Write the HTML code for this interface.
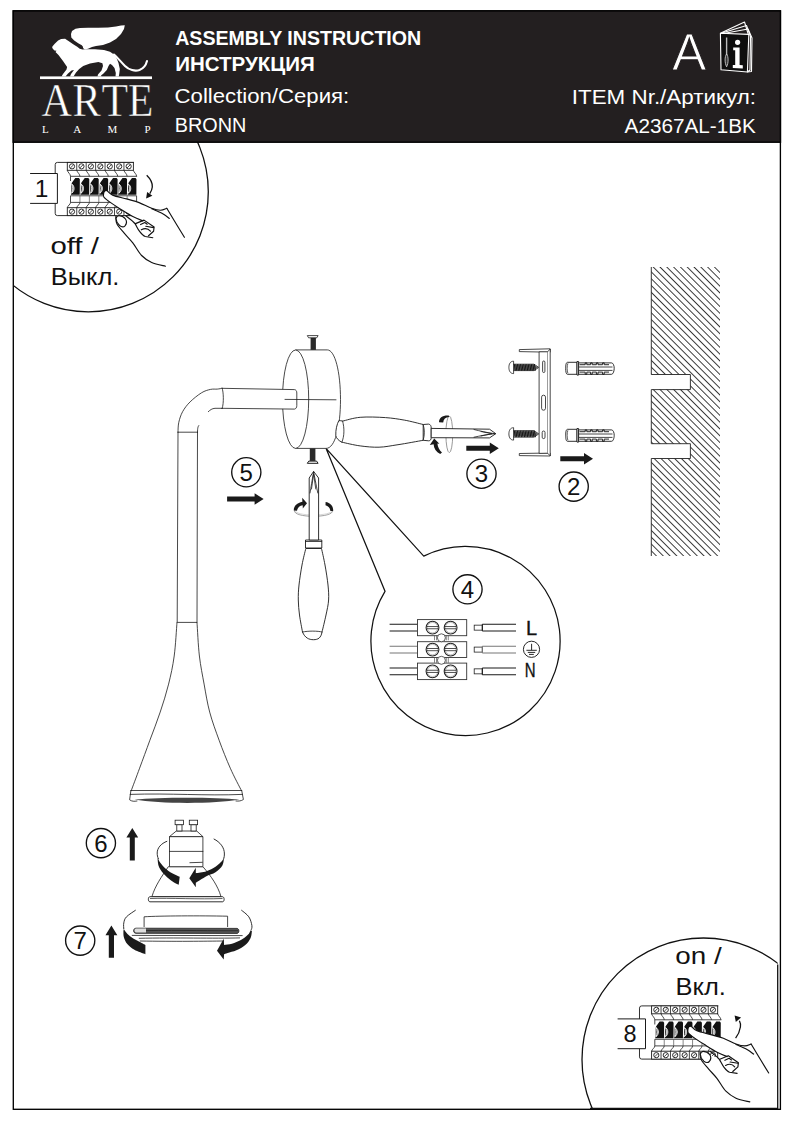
<!DOCTYPE html>
<html><head><meta charset="utf-8"><title>Assembly instruction</title>
<style>
html,body{margin:0;padding:0;background:#fff;}
body{width:794px;height:1123px;overflow:hidden;}
svg{display:block;}
text{font-family:"Liberation Sans",sans-serif;}
.serif{font-family:"Liberation Serif",serif;}
.ln{fill:none;stroke:#1a1a1a;stroke-width:0.8;stroke-linejoin:round;stroke-linecap:round;}
.lk{fill:none;stroke:#111;stroke-width:1.3;stroke-linejoin:round;stroke-linecap:round;}
.wf{fill:#fff;stroke:#1a1a1a;stroke-width:0.8;stroke-linejoin:round;}
.blk{fill:#1c1c1c;stroke:none;}
</style></head>
<body>
<svg width="794" height="1123" viewBox="0 0 794 1123">
<!-- page border -->
<rect x="13.3" y="10.9" width="767.1" height="1098.4" fill="#fff" stroke="#000" stroke-width="1.35"/>


<defs>
<clipPath id="clip1"><rect x="13.3" y="142" width="400" height="400"/></clipPath>
<clipPath id="clip8"><rect x="500" y="900" width="277.7" height="208.5"/></clipPath>
<pattern id="hatch" patternUnits="userSpaceOnUse" x="652.5" y="267" width="4.81" height="4.81" patternTransform="rotate(-45 652.5 267)">
<line x1="0.45" y1="-1" x2="0.45" y2="6" stroke="#111" stroke-width="0.85"/>
</pattern>
</defs>

<!-- circle 1 -->
<circle cx="88.3" cy="191.8" r="120" fill="none" stroke="#111" stroke-width="1.3" clip-path="url(#clip1)"/>
<!-- circle 8 -->
<circle cx="703.5" cy="1059.5" r="121.5" fill="none" stroke="#111" stroke-width="1.3" clip-path="url(#clip8)"/>
<path d="M777.7,964.5 L777.7,1108.3 L590,1108.3" fill="none" stroke="#111" stroke-width="1.3"/>

<!-- circle 4 with pointer -->
<path d="M326,448.3 L423.7,556.1 A94.6,94.6 0 1 1 385,591.3 Z" fill="#fff" stroke="#111" stroke-width="1.25" stroke-linejoin="miter"/>

<!-- wall -->
<g id="wall">
<path d="M651.3,267 L720,267 L720,556 L651.3,556 L651.3,458.5 L690.4,458.5 L690.4,443.7 L651.3,443.7 L651.3,389.6 L690.4,389.6 L690.4,374.5 L651.3,374.5 Z" fill="url(#hatch)" stroke="none"/>
<path d="M651.3,267 L651.3,374.5 L690.4,374.5 L690.4,389.6 L651.3,389.6 L651.3,443.7 L690.4,443.7 L690.4,458.5 L651.3,458.5 L651.3,556" fill="none" stroke="#222" stroke-width="0.9"/>
</g>

<path d="M177.0,622.4 C176.5,628.0 175.6,645.7 174.2,656.0 C172.8,666.3 170.9,674.8 168.6,684.1 C166.3,693.5 163.3,702.8 160.2,712.1 C157.1,721.5 153.3,730.9 149.9,740.2 C146.5,749.6 142.7,759.8 139.6,768.2 C136.5,776.6 132.6,787.0 131.2,790.7" fill="none" stroke="#1a1a1a" stroke-width="0.8" stroke-linejoin="round" stroke-linecap="round"/>
<path d="M197.0,622.4 C197.4,628.0 198.2,645.7 199.4,656.0 C200.6,666.3 202.4,674.8 204.1,684.1 C205.8,693.5 207.2,702.8 209.7,712.1 C212.2,721.5 215.7,730.9 219.1,740.2 C222.5,749.6 226.6,759.8 230.3,768.2 C234.0,776.6 239.6,787.0 241.5,790.7" fill="none" stroke="#1a1a1a" stroke-width="0.8" stroke-linejoin="round" stroke-linecap="round"/>
<path d="M134.5,799.5 C160,804 215,804 239.5,799.5 C215,797 160,797 134.5,799.5 Z" fill="#444"/>
<path d="M130.9,790.5 L241.7,790.5 M130.2,794.4 C170,793 205,796 242.5,794.4" fill="none" stroke="#1a1a1a" stroke-width="0.8" stroke-linejoin="round" stroke-linecap="round"/>
<path d="M130.9,790.5 L129.6,799.8 C132,801.5 134,801.5 137,801 M241.7,790.5 L243.4,799.5 C241,801 239,801.3 236,801" fill="none" stroke="#1a1a1a" stroke-width="0.8" stroke-linejoin="round" stroke-linecap="round"/>
<path d="M178,432.2 L177.2,622.4 L197,622.4 L197.5,432.2" fill="none" stroke="#1a1a1a" stroke-width="0.8" stroke-linejoin="round" stroke-linecap="round"/>
<path d="M178,432.2 L197.5,432.2" fill="none" stroke="#1a1a1a" stroke-width="0.8" stroke-linejoin="round" stroke-linecap="round"/>
<path d="M222.2,388.3 C221.4,388.4 219.2,388.9 217.3,389.1 C215.4,389.3 213.1,388.8 210.5,389.4 C207.9,390.0 204.9,390.7 201.5,392.8 C198.1,394.9 193.2,398.8 190.1,401.9 C186.9,405.0 184.5,408.3 182.6,411.7 C180.7,415.1 179.6,418.9 178.8,422.3 C178.0,425.7 178.1,430.6 178.0,432.2" fill="none" stroke="#1a1a1a" stroke-width="0.8" stroke-linejoin="round" stroke-linecap="round"/>
<path d="M222.2,408.3 L215,408.3 C212,408.5 210,410 208.3,411.7" fill="none" stroke="#1a1a1a" stroke-width="0.8" stroke-linejoin="round" stroke-linecap="round"/>
<path d="M198.8,425.5 C198,426.5 197.5,428 197.5,432.2" fill="none" stroke="#1a1a1a" stroke-width="0.8" stroke-linejoin="round" stroke-linecap="round"/>
<path d="M222.2,388.3 C223.5,392 224,403 222.2,408.3" fill="none" stroke="#1a1a1a" stroke-width="0.8" stroke-linejoin="round" stroke-linecap="round"/>
<path d="M295.6,349.9 L327.3,349.9 C335,349.9 340.5,372 340.5,399.5 C340.5,427 335,448.4 326.1,448.4 L295.6,448.4 Z" fill="#fff" stroke="#1a1a1a" stroke-width="0.8"/>
<ellipse cx="295.6" cy="399.2" rx="13.1" ry="49.2" fill="#fff" stroke="#1a1a1a" stroke-width="0.8"/>
<path d="M221.2,388.3 L294.5,389.6 C296,389.8 296.8,391 296.8,393 L296.8,405.5 C296.8,407.5 296,408.8 294.5,409.1 L221.2,408.3" fill="#fff" stroke="#1a1a1a" stroke-width="0.8"/>
<path d="M222.2,388.3 C223.5,392 224,403 222.2,408.3" fill="none" stroke="#1a1a1a" stroke-width="0.8" stroke-linejoin="round" stroke-linecap="round"/>
<path d="M285,399.4 L336,399.8" fill="none" stroke="#1a1a1a" stroke-width="0.8" stroke-linejoin="round" stroke-linecap="round"/>
<rect x="310.6" y="337.5" width="5.3" height="12.4" fill="#2a2a2a"/>
<path d="M307.3,335.6 L318.1,335.6 L316.8,337.8 L308.6,337.8 Z" fill="#fff" stroke="#1a1a1a" stroke-width="0.8"/>
<rect x="309.8" y="448.4" width="5.6" height="12.5" fill="#2a2a2a"/>
<path d="M308.8,461.1 L316.6,461.1 L318.1,463.3 L307.3,463.3 Z" fill="#fff" stroke="#1a1a1a" stroke-width="1"/>
<path d="M342.6,421.1 C345.5,420.5 353.1,417.9 360.2,417.3 C367.3,416.7 378.0,417.1 385.4,417.6 C392.8,418.1 398.0,419.0 404.3,420.1 C410.6,421.2 420.1,423.8 423.2,424.5 L423.2,440.3 C419.0,441.0 405.4,443.6 398.0,444.7 C390.6,445.8 385.4,447.0 379.1,447.2 C372.8,447.4 366.4,446.7 360.2,445.9 C354.0,445.1 344.9,442.8 341.9,442.2 C339,441 336,438 335.8,435.5 C335.5,430 337,424 338.8,420.7 C340,420.5 341.5,420.8 342.6,421.1 Z" fill="#fff" stroke="#1a1a1a" stroke-width="0.9"/>
<path d="M342.6,421.1 C344.5,428 344.5,436 341.9,442.2" fill="none" stroke="#1a1a1a" stroke-width="0.8" stroke-linejoin="round" stroke-linecap="round"/>
<path d="M423.2,424.5 L428.5,424.1 C430.5,424.3 431.2,426 431.2,428 L431.2,437.5 C431.2,439.5 430.5,440.8 428.5,440.8 L423.2,440.3 C424.6,435 424.6,429.5 423.2,424.5 Z" fill="#fff" stroke="#1a1a1a" stroke-width="0.9"/>
<ellipse cx="449.3" cy="434.3" rx="3.4" ry="18.3" fill="none" stroke="#777" stroke-width="0.75"/>
<path d="M431.2,428.4 L489.5,429.2 L495.8,433.7 L489.5,437.9 L431.2,437.7 Z" fill="#fff" stroke="#1a1a1a" stroke-width="0.9"/>
<path d="M474,429.5 C480,431 486,432.5 495,433.7 M474,437.2 C480,436 486,434.5 495,433.7 M481,431.5 L492,433.7 L481,436" fill="none" stroke="#1a1a1a" stroke-width="0.8" stroke-linejoin="round" stroke-linecap="round"/>
<path d="M439,422.2 C439,418 442.5,415.2 448.8,415.6 L449.2,417 C445.5,417.2 443.5,419 443.2,422.4 Z" fill="#1a1a1a"/>
<path d="M429.8,445 L434.2,438.4 L439.4,443.8 L437.4,443.6 C437.8,447.3 439.4,450.3 442,452.6 L440.2,454 C436.2,451.8 433.8,448.5 433.6,444.2 Z" fill="#1a1a1a"/>
<path d="M305.8,548.5 C305.2,551.2 303.1,558.9 302.0,565.0 C300.9,571.1 299.6,579.2 299.0,585.0 C298.4,590.8 298.2,595.0 298.3,600.0 C298.4,605.0 298.8,609.7 299.5,615.0 C300.2,620.3 302.0,629.2 302.5,632.0 C305,638 309,639.7 313.5,639.7 C318,639.7 321,638 322,632  C322.7,629.2 324.9,620.3 326.0,615.0 C327.1,609.7 328.3,605.0 328.6,600.0 C328.9,595.0 328.6,590.8 328.0,585.0 C327.4,579.2 326.1,571.1 325.0,565.0 C323.9,558.9 322.1,551.2 321.5,548.5 Z" fill="#fff" stroke="#1a1a1a" stroke-width="0.9"/>
<path d="M302.5,632 C308,630.8 318,630.8 322,632" fill="none" stroke="#1a1a1a" stroke-width="0.8" stroke-linejoin="round" stroke-linecap="round"/>
<path d="M305.5,540 L321.8,540 L321.8,548 L305.5,548 Z" fill="#fff" stroke="#1a1a1a" stroke-width="0.9"/>
<path d="M305.6,541.5 L321.7,541.5" fill="none" stroke="#1a1a1a" stroke-width="0.8" stroke-linejoin="round" stroke-linecap="round"/>
<path d="M294.4,510.3 C293.8,514.3 303,516.3 313.5,516.3 C324,516.3 333.2,514.3 332.7,510.3" fill="none" stroke="#888" stroke-width="0.8"/>
<path d="M295.2,510.6 C295.5,513.2 303,515 313.5,515 C324,515 331.8,513.2 332,510.6" fill="none" stroke="#bbb" stroke-width="0.6"/>
<path d="M309.2,540 L309.2,478 L313.6,471.4 L318.6,478 L318.6,540 Z" fill="#fff" stroke="#1a1a1a" stroke-width="0.9"/>
<path d="M310,493 C311,487 312,481 313.6,472 M317.8,493 C316.5,487 315.5,481 313.6,472 M311.5,489 L313.6,474 L315.8,489" fill="none" stroke="#1a1a1a" stroke-width="0.8" stroke-linejoin="round" stroke-linecap="round"/>
<path d="M293.8,510.4 C293.6,506 297,502.8 302.4,501.7 L302.2,497.8 L307,503.2 L302.8,508.4 L302.7,505.3 C299.5,505.9 297.5,507.8 297,510.8 Z" fill="#1a1a1a"/>
<path d="M325.6,501.9 C330.4,502.6 333.6,506.2 333.1,510.9 L330.4,511.1 C330.1,508.1 328.4,506 325.5,505.3 Z" fill="#1a1a1a"/>
<path d="M519.3,349.6 L550.2,348.8 L550.2,352.2 L519.3,351.6 Z" fill="#fff" stroke="#1a1a1a" stroke-width="0.8"/>
<path d="M519.3,453.5 L550.2,453 L550.2,456 L519.3,455.6 Z" fill="#fff" stroke="#1a1a1a" stroke-width="0.8"/>
<path d="M539.1,351.8 L547.6,351.8 L547.6,453.2 L539.1,453.4 Z" fill="#fff" stroke="#1a1a1a" stroke-width="0.8"/>
<path d="M547.6,351.8 L550.2,349 L550.2,455.8 L547.6,453.2" fill="#fff" stroke="#1a1a1a" stroke-width="0.8"/>
<rect x="542.6" y="361" width="2.3" height="11.5" rx="1.1" fill="#fff" stroke="#1a1a1a" stroke-width="0.8"/>
<rect x="541.6" y="395.2" width="3.9" height="15" rx="1.9" fill="#fff" stroke="#1a1a1a" stroke-width="0.8"/>
<rect x="542.2" y="431" width="2.8" height="7.6" rx="1.4" fill="#fff" stroke="#1a1a1a" stroke-width="0.8"/>
<path d="M513.6,361.2 C510,361.2 508.9,364.4 508.9,367.4 C508.9,370.4 510,373.59999999999997 513.6,373.59999999999997 Z" fill="#fff" stroke="#1a1a1a" stroke-width="0.8"/>
<path d="M513.6,364.2 L534,364.2 L538.8,367.4 L534,370.59999999999997 L513.6,370.59999999999997 Z" fill="#fff" stroke="#1a1a1a" stroke-width="0.8"/>
<path d="M513.6,364.79999999999995 L534,364.79999999999995 L538.8,367.4 L534,370.0 L513.6,370.0 Z" fill="#666"/>
<path d="M514.3,364.09999999999997 L515.3,370.7 M515.8,364.09999999999997 L516.8,370.7 M517.4,364.09999999999997 L518.4,370.7 M518.9,364.09999999999997 L519.9,370.7 M520.5,364.09999999999997 L521.5,370.7 M522.0,364.09999999999997 L523.0,370.7 M523.6,364.09999999999997 L524.6,370.7 M525.1,364.09999999999997 L526.1,370.7 M526.7,364.09999999999997 L527.7,370.7 M528.2,364.09999999999997 L529.2,370.7 M529.8,364.09999999999997 L530.8,370.7 M531.3,364.09999999999997 L532.3,370.7 M532.9,364.09999999999997 L533.9,370.7 M534.4,364.09999999999997 L535.4,370.7 " fill="none" stroke="#111" stroke-width="0.95"/>
<path d="M513.6,427.7 C510,427.7 508.9,430.9 508.9,433.9 C508.9,436.9 510,440.09999999999997 513.6,440.09999999999997 Z" fill="#fff" stroke="#1a1a1a" stroke-width="0.8"/>
<path d="M513.6,430.7 L534,430.7 L538.8,433.9 L534,437.09999999999997 L513.6,437.09999999999997 Z" fill="#fff" stroke="#1a1a1a" stroke-width="0.8"/>
<path d="M513.6,431.29999999999995 L534,431.29999999999995 L538.8,433.9 L534,436.5 L513.6,436.5 Z" fill="#666"/>
<path d="M514.3,430.59999999999997 L515.3,437.2 M515.8,430.59999999999997 L516.8,437.2 M517.4,430.59999999999997 L518.4,437.2 M518.9,430.59999999999997 L519.9,437.2 M520.5,430.59999999999997 L521.5,437.2 M522.0,430.59999999999997 L523.0,437.2 M523.6,430.59999999999997 L524.6,437.2 M525.1,430.59999999999997 L526.1,437.2 M526.7,430.59999999999997 L527.7,437.2 M528.2,430.59999999999997 L529.2,437.2 M529.8,430.59999999999997 L530.8,437.2 M531.3,430.59999999999997 L532.3,437.2 M532.9,430.59999999999997 L533.9,437.2 M534.4,430.59999999999997 L535.4,437.2 " fill="none" stroke="#111" stroke-width="0.95"/>
<path d="M567.5,362.3 L577,362.3 L577,374.3 L567.5,374.3 C566,374.3 565.7,371.3 565.7,368.3 C565.7,365.3 566,362.3 567.5,362.3 Z" fill="#fff" stroke="#1a1a1a" stroke-width="0.9"/>
<path d="M567.9,363.3 C566.9,365.8 566.9,370.8 567.9,373.3" fill="none" stroke="#333" stroke-width="0.8"/>
<path d="M577,361.5 L578.6,361.5 L578.6,375.1 L577,375.1 Z" fill="#fff" stroke="#1a1a1a" stroke-width="0.9"/>
<path d="M578.6,362.90000000000003 L611.5,362.90000000000003 C613.3,362.90000000000003 614.2,365.8 614.2,368.3 C614.2,370.8 613.3,374.3 611.5,374.3 L578.6,374.3 Z" fill="#fff" stroke="#1a1a1a" stroke-width="0.9"/>
<path d="M579,367.0 L612.5,367.0 M579,370.40000000000003 L612.5,370.40000000000003" fill="none" stroke="#1a1a1a" stroke-width="0.8"/>
<path d="M579.5,364.7 L585.2,364.7 L585.2,362.90000000000003 L586.8000000000001,362.90000000000003 L586.8000000000001,364.7 L590.6,364.7 L590.6,362.90000000000003 L592.2,362.90000000000003 L592.2,364.7 L596.4,364.7 L596.4,362.90000000000003 L598.0,362.90000000000003 L598.0,364.7 L602.6,364.7 L602.6,362.90000000000003 L604.2,362.90000000000003 L604.2,364.7 L609,364.7 M579.5,372.1 L585.2,372.1 L585.2,374.3 L586.8000000000001,374.3 L586.8000000000001,372.1 L590.6,372.1 L590.6,374.3 L592.2,374.3 L592.2,372.1 L596.4,372.1 L596.4,374.3 L598.0,374.3 L598.0,372.1 L602.6,372.1 L602.6,374.3 L604.2,374.3 L604.2,372.1 L609,372.1" fill="none" stroke="#1a1a1a" stroke-width="0.95"/>
<path d="M567.5,429.3 L577,429.3 L577,441.3 L567.5,441.3 C566,441.3 565.7,438.3 565.7,435.3 C565.7,432.3 566,429.3 567.5,429.3 Z" fill="#fff" stroke="#1a1a1a" stroke-width="0.9"/>
<path d="M567.9,430.3 C566.9,432.8 566.9,437.8 567.9,440.3" fill="none" stroke="#333" stroke-width="0.8"/>
<path d="M577,428.5 L578.6,428.5 L578.6,442.1 L577,442.1 Z" fill="#fff" stroke="#1a1a1a" stroke-width="0.9"/>
<path d="M578.6,429.90000000000003 L611.5,429.90000000000003 C613.3,429.90000000000003 614.2,432.8 614.2,435.3 C614.2,437.8 613.3,441.3 611.5,441.3 L578.6,441.3 Z" fill="#fff" stroke="#1a1a1a" stroke-width="0.9"/>
<path d="M579,434.0 L612.5,434.0 M579,437.40000000000003 L612.5,437.40000000000003" fill="none" stroke="#1a1a1a" stroke-width="0.8"/>
<path d="M579.5,431.7 L585.2,431.7 L585.2,429.90000000000003 L586.8000000000001,429.90000000000003 L586.8000000000001,431.7 L590.6,431.7 L590.6,429.90000000000003 L592.2,429.90000000000003 L592.2,431.7 L596.4,431.7 L596.4,429.90000000000003 L598.0,429.90000000000003 L598.0,431.7 L602.6,431.7 L602.6,429.90000000000003 L604.2,429.90000000000003 L604.2,431.7 L609,431.7 M579.5,439.1 L585.2,439.1 L585.2,441.3 L586.8000000000001,441.3 L586.8000000000001,439.1 L590.6,439.1 L590.6,441.3 L592.2,441.3 L592.2,439.1 L596.4,439.1 L596.4,441.3 L598.0,441.3 L598.0,439.1 L602.6,439.1 L602.6,441.3 L604.2,441.3 L604.2,439.1 L609,439.1" fill="none" stroke="#1a1a1a" stroke-width="0.95"/>
<path d="M389.6,624.2500000000001 L417.5,624.2500000000001 M389.6,631.0500000000001 L417.5,631.0500000000001" fill="none" stroke="#1a1a1a" stroke-width="1.1"/>
<rect x="417.5" y="619.6" width="49.2" height="16.100000000000023" fill="#fff" stroke="#333" stroke-width="0.9"/>
<circle cx="432.5" cy="627.6500000000001" r="6.4" fill="#fff" stroke="#222" stroke-width="1.1"/>
<circle cx="432.5" cy="627.6500000000001" r="5.2" fill="none" stroke="#999" stroke-width="0.6"/>
<path d="M426.9,626.5500000000001 L438.1,626.5500000000001 M426.9,628.7500000000001 L438.1,628.7500000000001" fill="none" stroke="#222" stroke-width="0.8"/>
<circle cx="450.6" cy="627.6500000000001" r="6.4" fill="#fff" stroke="#222" stroke-width="1.1"/>
<circle cx="450.6" cy="627.6500000000001" r="5.2" fill="none" stroke="#999" stroke-width="0.6"/>
<path d="M445.0,626.5500000000001 L456.20000000000005,626.5500000000001 M445.0,628.7500000000001 L456.20000000000005,628.7500000000001" fill="none" stroke="#222" stroke-width="0.8"/>
<rect x="474.2" y="625.1500000000001" width="8.1" height="5" fill="#fff" stroke="#222" stroke-width="0.8"/>
<path d="M482.3,624.2500000000001 L516,624.2500000000001 M482.3,631.0500000000001 L516,631.0500000000001 M482.3,624.2500000000001 L482.3,631.0500000000001" fill="none" stroke="#1a1a1a" stroke-width="1.1"/>
<path d="M389.6,646.2 L417.5,646.2 M389.6,653.0 L417.5,653.0" fill="none" stroke="#777" stroke-width="1.1"/>
<rect x="417.5" y="641.7" width="49.2" height="15.799999999999955" fill="#fff" stroke="#333" stroke-width="0.9"/>
<circle cx="432.5" cy="649.6" r="6.4" fill="#fff" stroke="#222" stroke-width="1.1"/>
<circle cx="432.5" cy="649.6" r="5.2" fill="none" stroke="#999" stroke-width="0.6"/>
<path d="M426.9,648.5 L438.1,648.5 M426.9,650.7 L438.1,650.7" fill="none" stroke="#222" stroke-width="0.8"/>
<circle cx="450.6" cy="649.6" r="6.4" fill="#fff" stroke="#222" stroke-width="1.1"/>
<circle cx="450.6" cy="649.6" r="5.2" fill="none" stroke="#999" stroke-width="0.6"/>
<path d="M445.0,648.5 L456.20000000000005,648.5 M445.0,650.7 L456.20000000000005,650.7" fill="none" stroke="#222" stroke-width="0.8"/>
<rect x="474.2" y="647.1" width="8.1" height="5" fill="#fff" stroke="#222" stroke-width="0.8"/>
<path d="M482.3,646.2 L516,646.2 M482.3,653.0 L516,653.0 M482.3,646.2 L482.3,653.0" fill="none" stroke="#777" stroke-width="1.1"/>
<path d="M389.6,667.95 L417.5,667.95 M389.6,674.75 L417.5,674.75" fill="none" stroke="#1a1a1a" stroke-width="1.1"/>
<rect x="417.5" y="663.1" width="49.2" height="16.5" fill="#fff" stroke="#333" stroke-width="0.9"/>
<circle cx="432.5" cy="671.35" r="6.4" fill="#fff" stroke="#222" stroke-width="1.1"/>
<circle cx="432.5" cy="671.35" r="5.2" fill="none" stroke="#999" stroke-width="0.6"/>
<path d="M426.9,670.25 L438.1,670.25 M426.9,672.45 L438.1,672.45" fill="none" stroke="#222" stroke-width="0.8"/>
<circle cx="450.6" cy="671.35" r="6.4" fill="#fff" stroke="#222" stroke-width="1.1"/>
<circle cx="450.6" cy="671.35" r="5.2" fill="none" stroke="#999" stroke-width="0.6"/>
<path d="M445.0,670.25 L456.20000000000005,670.25 M445.0,672.45 L456.20000000000005,672.45" fill="none" stroke="#222" stroke-width="0.8"/>
<rect x="474.2" y="668.85" width="8.1" height="5" fill="#fff" stroke="#222" stroke-width="0.8"/>
<path d="M482.3,667.95 L516,667.95 M482.3,674.75 L516,674.75 M482.3,667.95 L482.3,674.75" fill="none" stroke="#1a1a1a" stroke-width="1.1"/>
<circle cx="441.4" cy="637.8" r="4" fill="#fff" stroke="#333" stroke-width="0.8"/>
<path d="M434.5,635.3 L434.5,640.3 M436.5,635.3 L436.5,640.3 M446.3,635.3 L446.3,640.3 M448.3,635.3 L448.3,640.3" fill="none" stroke="#555" stroke-width="0.7"/>
<circle cx="441.4" cy="660.3" r="4" fill="#fff" stroke="#333" stroke-width="0.8"/>
<path d="M434.5,657.8 L434.5,662.8 M436.5,657.8 L436.5,662.8 M446.3,657.8 L446.3,662.8 M448.3,657.8 L448.3,662.8" fill="none" stroke="#555" stroke-width="0.7"/>
<text x="526" y="634.5" font-size="20" fill="#111" stroke="#111" stroke-width="0.35">L</text>
<text x="524.8" y="677.4" font-size="19.5" fill="#111" stroke="#111" stroke-width="0.35" textLength="10.8" lengthAdjust="spacingAndGlyphs">N</text>
<circle cx="531.5" cy="649.3" r="8.1" fill="#fff" stroke="#111" stroke-width="0.9"/>
<path d="M531.6,643.8 L531.6,650.2 M526.4,650.3 L536.8,650.3 M527.8,652.4 L535.2,652.4 M529,654.4 L533.8,654.4" fill="none" stroke="#111" stroke-width="0.9"/>
<path d="M168.3,866.7 C162,876 155,886 151.9,896.7 L221,896.7 C218,886 211,876 202.9,866.7 Z" fill="#fff" stroke="#1a1a1a" stroke-width="0.8"/>
<path d="M150,896.7 L222.5,896.7 C224.5,896.7 224.8,901.8 222.5,901.8 L150,901.8 C147.8,901.8 147.8,896.7 150,896.7 Z" fill="#fff" stroke="#1a1a1a" stroke-width="0.9"/>
<path d="M150,898.5 C170,897.8 200,899.5 222.5,898.5" fill="none" stroke="#1a1a1a" stroke-width="0.7"/>
<path d="M169.5,836.6 L202.9,836.6 L202.9,866.7 L169.5,866.7 Z" fill="#fff" stroke="#1a1a1a" stroke-width="0.8"/>
<path d="M169.5,851.4 L202.9,851.4 M189.9,862.7 L202.3,862.3" fill="none" stroke="#1a1a1a" stroke-width="0.8" stroke-linejoin="round" stroke-linecap="round"/>
<path d="M176.3,831 L196.7,831 L202.9,836.6 L169.5,836.6 Z" fill="#fff" stroke="#1a1a1a" stroke-width="0.8"/>
<rect x="176.79999999999998" y="824.7" width="5.2" height="6.3" fill="#fff" stroke="#1a1a1a" stroke-width="0.8"/>
<rect x="175.1" y="820.2" width="8.3" height="4.5" fill="#fff" stroke="#1a1a1a" stroke-width="0.8"/>
<rect x="191.0" y="824.7" width="5.2" height="6.3" fill="#fff" stroke="#1a1a1a" stroke-width="0.8"/>
<rect x="189.3" y="820.2" width="8.3" height="4.5" fill="#fff" stroke="#1a1a1a" stroke-width="0.8"/>
<path d="M167.2,841.2 C161,843.5 157.2,848 157.2,853 C157.2,855 157.5,857 158.5,859" fill="none" stroke="#1a1a1a" stroke-width="0.9"/>
<path d="M213.7,838.9 C220,842 224.5,847.5 224.4,854 C224.4,855.5 224.2,857 223.8,858.7" fill="none" stroke="#1a1a1a" stroke-width="0.9"/>
<path d="M157.6,859.1 C157.8,860.5 157.8,864.5 159.1,867.2 C160.3,869.9 162.9,872.9 165.1,875.2 C167.3,877.6 169.9,879.7 172.2,881.3 C174.5,882.9 177.6,884.2 178.7,884.8 L179.7,876.7 C178.4,876.1 174.6,874.6 172.2,873.2 C169.8,871.8 167.1,870.0 165.1,868.2 C163.1,866.4 161.3,864.3 160.1,862.6 C158.9,860.9 158.3,858.9 157.9,858.1 Z" fill="#1a1a1a"/>
<path d="M224.0,857.1 C223.8,858.5 223.9,862.7 222.5,865.2 C221.1,867.7 218.2,870.4 215.5,872.2 C212.8,874.0 209.7,874.4 206.4,876.2 C203.1,878.0 197.6,881.7 195.8,882.8 L195.8,887.3 L189.3,878.2 L195.8,867.7 L195.8,873.2 C197.6,872.9 203.1,872.3 206.4,871.2 C209.7,870.1 212.9,868.4 215.5,866.7 C218.1,865.0 220.6,862.7 222.0,861.1 C223.4,859.5 223.7,857.8 224.0,857.1 Z" fill="#1a1a1a"/>
<path d="M144.1,927 L144.1,916.8 C160,915.8 200,915.6 227.6,916.2 L227.6,927" fill="#fff" stroke="#1a1a1a" stroke-width="0.8"/>
<path d="M136,928.2 L237,928.4 C239.5,928.6 239.5,933.3 237,933.4 L136,933.3 C132.8,933.2 132.8,928.3 136,928.2 Z" fill="#555" stroke="#1a1a1a" stroke-width="0.8"/>
<path d="M136,928.6 L146,928.6 L146,932.5 L136,932.5 C134,932.5 134,928.6 136,928.6 Z" fill="#ddd"/>
<path d="M146,930.6 C180,930 215,931 238,930.7" fill="none" stroke="#222" stroke-width="0.8"/>
<path d="M131.8,935.4 L242.6,935.6 M138.8,938.3 C175,937.5 215,938.6 240,937.9 M139.7,941 C175,941.6 205,941.2 224,941" fill="none" stroke="#1a1a1a" stroke-width="0.8"/>
<path d="M135.7,910.1 C134.2,911.2 128.5,914.7 126.5,916.8 C124.5,918.9 124.2,920.8 123.8,922.9 C123.3,925.0 123.8,928.1 123.8,929.1" fill="none" stroke="#1a1a1a" stroke-width="0.9"/>
<path d="M241.3,910.1 C242.6,911.2 247.0,914.2 248.8,916.8 C250.6,919.4 251.5,923.3 251.9,925.6 C252.3,927.9 251.2,929.6 251.0,930.4" fill="none" stroke="#1a1a1a" stroke-width="0.9"/>
<path d="M123.4,930.9 C123.5,931.9 123.2,934.8 123.8,937.0 C124.4,939.2 125.5,942.0 127.3,944.1 C129.1,946.2 131.4,948.1 134.4,949.8 C137.4,951.5 143.6,953.5 145.4,954.2 L145.4,945.0 C144.0,944.3 139.6,942.1 137.0,940.6 C134.4,939.1 131.9,937.7 130.0,936.2 C128.1,934.7 126.6,932.9 125.6,931.7 C124.6,930.5 124.1,929.5 123.8,929.1 Z" fill="#1a1a1a"/>
<path d="M251.9,930.9 C251.7,932.1 251.7,935.5 250.6,937.9 C249.5,940.2 247.7,942.9 245.3,945.0 C242.9,947.1 239.4,949.0 236.4,950.3 C233.4,951.6 229.7,952.4 227.6,953.0 C225.5,953.6 224.7,954.0 224.1,954.2 L223.7,959.5 L217,950.7 L223.7,938.8 L224.1,945.0 C225.4,944.8 229.2,944.5 232.0,943.7 C234.8,942.9 238.2,941.6 240.9,940.1 C243.6,938.6 246.3,936.4 247.9,934.8 C249.5,933.2 250.2,931.1 250.6,930.4 Z" fill="#1a1a1a"/>
<path d="M134,162.4 L57.4,162.4 Q55.2,162.4 55.2,164.6 L55.2,213.4 Q55.2,215.6 57.4,215.6 L134,215.6" fill="#fff" stroke="#1a1a1a" stroke-width="0.9"/>
<rect x="67.3" y="162.4" width="66.08" height="7.900000000000006" fill="#fff" stroke="#1a1a1a" stroke-width="0.9"/>
<path d="M76.74,162.4 L76.74,170.3 M86.18,162.4 L86.18,170.3 M95.62,162.4 L95.62,170.3 M105.06,162.4 L105.06,170.3 M114.50,162.4 L114.50,170.3 M123.94,162.4 L123.94,170.3 " fill="none" stroke="#1a1a1a" stroke-width="0.8"/>
<circle cx="72.02" cy="166.35" r="2.6" fill="none" stroke="#1a1a1a" stroke-width="0.9"/>
<path d="M70.42,167.95 L73.62,164.75" fill="none" stroke="#1a1a1a" stroke-width="0.8"/>
<circle cx="81.46" cy="166.35" r="2.6" fill="none" stroke="#1a1a1a" stroke-width="0.9"/>
<path d="M79.86,167.95 L83.06,164.75" fill="none" stroke="#1a1a1a" stroke-width="0.8"/>
<circle cx="90.90" cy="166.35" r="2.6" fill="none" stroke="#1a1a1a" stroke-width="0.9"/>
<path d="M89.30,167.95 L92.50,164.75" fill="none" stroke="#1a1a1a" stroke-width="0.8"/>
<circle cx="100.34" cy="166.35" r="2.6" fill="none" stroke="#1a1a1a" stroke-width="0.9"/>
<path d="M98.74,167.95 L101.94,164.75" fill="none" stroke="#1a1a1a" stroke-width="0.8"/>
<circle cx="109.78" cy="166.35" r="2.6" fill="none" stroke="#1a1a1a" stroke-width="0.9"/>
<path d="M108.18,167.95 L111.38,164.75" fill="none" stroke="#1a1a1a" stroke-width="0.8"/>
<circle cx="119.22" cy="166.35" r="2.6" fill="none" stroke="#1a1a1a" stroke-width="0.9"/>
<path d="M117.62,167.95 L120.82,164.75" fill="none" stroke="#1a1a1a" stroke-width="0.8"/>
<circle cx="128.66" cy="166.35" r="2.6" fill="none" stroke="#1a1a1a" stroke-width="0.9"/>
<path d="M127.06,167.95 L130.26,164.75" fill="none" stroke="#1a1a1a" stroke-width="0.8"/>
<rect x="67.3" y="207.7" width="66.08" height="7.900000000000006" fill="#fff" stroke="#1a1a1a" stroke-width="0.9"/>
<path d="M76.74,207.7 L76.74,215.6 M86.18,207.7 L86.18,215.6 M95.62,207.7 L95.62,215.6 M105.06,207.7 L105.06,215.6 M114.50,207.7 L114.50,215.6 M123.94,207.7 L123.94,215.6 " fill="none" stroke="#1a1a1a" stroke-width="0.8"/>
<circle cx="72.02" cy="211.65" r="2.6" fill="none" stroke="#1a1a1a" stroke-width="0.9"/>
<path d="M70.42,213.25 L73.62,210.05" fill="none" stroke="#1a1a1a" stroke-width="0.8"/>
<circle cx="81.46" cy="211.65" r="2.6" fill="none" stroke="#1a1a1a" stroke-width="0.9"/>
<path d="M79.86,213.25 L83.06,210.05" fill="none" stroke="#1a1a1a" stroke-width="0.8"/>
<circle cx="90.90" cy="211.65" r="2.6" fill="none" stroke="#1a1a1a" stroke-width="0.9"/>
<path d="M89.30,213.25 L92.50,210.05" fill="none" stroke="#1a1a1a" stroke-width="0.8"/>
<circle cx="100.34" cy="211.65" r="2.6" fill="none" stroke="#1a1a1a" stroke-width="0.9"/>
<path d="M98.74,213.25 L101.94,210.05" fill="none" stroke="#1a1a1a" stroke-width="0.8"/>
<circle cx="109.78" cy="211.65" r="2.6" fill="none" stroke="#1a1a1a" stroke-width="0.9"/>
<path d="M108.18,213.25 L111.38,210.05" fill="none" stroke="#1a1a1a" stroke-width="0.8"/>
<circle cx="119.22" cy="211.65" r="2.6" fill="none" stroke="#1a1a1a" stroke-width="0.9"/>
<path d="M117.62,213.25 L120.82,210.05" fill="none" stroke="#1a1a1a" stroke-width="0.8"/>
<circle cx="128.66" cy="211.65" r="2.6" fill="none" stroke="#1a1a1a" stroke-width="0.9"/>
<path d="M127.06,213.25 L130.26,210.05" fill="none" stroke="#1a1a1a" stroke-width="0.8"/>
<path d="M67.30,170.3 C67.80,172.5 70.50,174 70.50,176.3 M70.50,202.4 C70.50,204.5 67.80,205.5 67.30,207.7 M76.74,170.3 C77.24,172.5 79.94,174 79.94,176.3 M79.94,202.4 C79.94,204.5 77.24,205.5 76.74,207.7 M86.18,170.3 C86.68,172.5 89.38,174 89.38,176.3 M89.38,202.4 C89.38,204.5 86.68,205.5 86.18,207.7 M95.62,170.3 C96.12,172.5 98.82,174 98.82,176.3 M98.82,202.4 C98.82,204.5 96.12,205.5 95.62,207.7 M105.06,170.3 C105.56,172.5 108.26,174 108.26,176.3 M108.26,202.4 C108.26,204.5 105.56,205.5 105.06,207.7 M114.50,170.3 C115.00,172.5 117.70,174 117.70,176.3 M117.70,202.4 C117.70,204.5 115.00,205.5 114.50,207.7 M123.94,170.3 C124.44,172.5 127.14,174 127.14,176.3 M127.14,202.4 C127.14,204.5 124.44,205.5 123.94,207.7 M133.38,170.3 C133.88,172.5 136.58,174 136.58,176.3 M136.58,202.4 C136.58,204.5 133.88,205.5 133.38,207.7 " fill="none" stroke="#1a1a1a" stroke-width="0.8"/>
<path d="M70.5,176.3 L137.08,176.3 M70.5,176.3 L70.5,181 M70.5,195.8 L136.58,195.8 L136.58,202.4 L70.5,202.4 Z" fill="none" stroke="#1a1a1a" stroke-width="0.8"/>
<path d="M79.94,195.8 L79.94,202.4 M89.38,195.8 L89.38,202.4 M98.82,195.8 L98.82,202.4 M108.26,195.8 L108.26,202.4 M117.70,195.8 L117.70,202.4 M127.14,195.8 L127.14,202.4 " fill="none" stroke="#555" stroke-width="0.7"/>
<path d="M75.30,178 L78.90,178 L79.84,179.2 L79.74,194.8 L70.90,194.8 L71.40,192.5 L71.40,184.2 L71.90,182.8 Z" fill="#111"/>
<path d="M71.70,184 C74.90,186 74.90,191 71.70,193.2 C73.10,190.5 73.10,186.5 71.70,184 Z" fill="#fff" stroke="#fff" stroke-width="0.8"/>
<path d="M72.70,185.5 C73.70,187.5 73.70,190 72.70,191.8" fill="none" stroke="#666" stroke-width="0.5"/>
<path d="M84.74,178 L88.34,178 L89.28,179.2 L89.18,194.8 L80.34,194.8 L80.84,192.5 L80.84,184.2 L81.34,182.8 Z" fill="#111"/>
<path d="M81.14,184 C84.34,186 84.34,191 81.14,193.2 C82.54,190.5 82.54,186.5 81.14,184 Z" fill="#fff" stroke="#fff" stroke-width="0.8"/>
<path d="M82.14,185.5 C83.14,187.5 83.14,190 82.14,191.8" fill="none" stroke="#666" stroke-width="0.5"/>
<path d="M94.18,178 L97.78,178 L98.72,179.2 L98.62,194.8 L89.78,194.8 L90.28,192.5 L90.28,184.2 L90.78,182.8 Z" fill="#111"/>
<path d="M90.58,184 C93.78,186 93.78,191 90.58,193.2 C91.98,190.5 91.98,186.5 90.58,184 Z" fill="#fff" stroke="#fff" stroke-width="0.8"/>
<path d="M91.58,185.5 C92.58,187.5 92.58,190 91.58,191.8" fill="none" stroke="#666" stroke-width="0.5"/>
<path d="M103.62,178 L107.22,178 L108.16,179.2 L108.06,194.8 L99.22,194.8 L99.72,192.5 L99.72,184.2 L100.22,182.8 Z" fill="#111"/>
<path d="M100.02,184 C103.22,186 103.22,191 100.02,193.2 C101.42,190.5 101.42,186.5 100.02,184 Z" fill="#fff" stroke="#fff" stroke-width="0.8"/>
<path d="M101.02,185.5 C102.02,187.5 102.02,190 101.02,191.8" fill="none" stroke="#666" stroke-width="0.5"/>
<path d="M113.06,178 L116.66,178 L117.60,179.2 L117.50,194.8 L108.66,194.8 L109.16,192.5 L109.16,184.2 L109.66,182.8 Z" fill="#111"/>
<path d="M109.46,184 C112.66,186 112.66,191 109.46,193.2 C110.86,190.5 110.86,186.5 109.46,184 Z" fill="#fff" stroke="#fff" stroke-width="0.8"/>
<path d="M110.46,185.5 C111.46,187.5 111.46,190 110.46,191.8" fill="none" stroke="#666" stroke-width="0.5"/>
<path d="M122.50,178 L126.10,178 L127.04,179.2 L126.94,194.8 L118.10,194.8 L118.60,192.5 L118.60,184.2 L119.10,182.8 Z" fill="#111"/>
<path d="M118.90,184 C122.10,186 122.10,191 118.90,193.2 C120.30,190.5 120.30,186.5 118.90,184 Z" fill="#fff" stroke="#fff" stroke-width="0.8"/>
<path d="M119.90,185.5 C120.90,187.5 120.90,190 119.90,191.8" fill="none" stroke="#666" stroke-width="0.5"/>
<path d="M131.94,178 L135.54,178 L136.48,179.2 L136.38,194.8 L127.54,194.8 L128.04,192.5 L128.04,184.2 L128.54,182.8 Z" fill="#111"/>
<path d="M128.34,184 C131.54,186 131.54,191 128.34,193.2 C129.74,190.5 129.74,186.5 128.34,184 Z" fill="#fff" stroke="#fff" stroke-width="0.8"/>
<path d="M129.34,185.5 C130.34,187.5 130.34,190 129.34,191.8" fill="none" stroke="#666" stroke-width="0.5"/>
<polygon points="105.1,190.7 107,190.7 112.6,195.1 126.5,198.9 139.1,202.6 151.7,208.3 160.5,210.2 166.8,208.3 175,222 184.4,237.3 165.5,266.2 151.7,262.5 141.6,255.5 132.8,242.9 124,232.9 117,224 115.8,216.5 117.5,215.4 120.5,215.5 123.5,216.8 126.5,219.5 130,221 134,222.8 142.9,220.9 132.8,216.5 120.2,208.9 108.9,201.4 103.8,197 103.8,192.6" fill="#fff" stroke="none"/>
<path d="M105.1,190.7 C105.4,190.7 105.8,190.0 107.0,190.7 C108.2,191.4 109.3,193.7 112.6,195.1 C115.8,196.5 122.1,197.7 126.5,198.9 C130.9,200.2 134.9,201.0 139.1,202.6 C143.3,204.2 148.1,207.0 151.7,208.3 C155.3,209.6 158.0,210.2 160.5,210.2 C163.0,210.2 165.8,208.6 166.8,208.3" fill="none" stroke="#111" stroke-width="1.15" stroke-linejoin="round" stroke-linecap="round"/>
<path d="M166.8,208.3 C172,217 178,227 184.4,237.3" fill="none" stroke="#111" stroke-width="1.15" stroke-linejoin="round" stroke-linecap="round"/>
<path d="M151.7,208.8 C152.8,209.2 155.9,210.6 158.0,211.5 C160.1,212.4 162.1,213.3 164.0,214.5 C165.9,215.7 168.4,217.8 169.3,218.4" fill="none" stroke="#111" stroke-width="1.15" stroke-linejoin="round" stroke-linecap="round"/>
<path d="M105.1,190.7 C104.9,191.0 104.0,191.5 103.8,192.6 C103.6,193.7 102.9,195.5 103.8,197.0 C104.7,198.5 106.2,199.4 108.9,201.4 C111.6,203.4 116.2,206.4 120.2,208.9 C124.2,211.4 129.0,214.5 132.8,216.5 C136.6,218.5 141.2,220.2 142.9,220.9" fill="none" stroke="#111" stroke-width="1.15" stroke-linejoin="round" stroke-linecap="round"/>
<path d="M115.8,216.5 C116.0,217.8 115.6,221.3 117.0,224.0 C118.4,226.7 121.4,229.8 124.0,232.9 C126.6,236.1 129.9,239.1 132.8,242.9 C135.7,246.7 138.4,252.2 141.6,255.5 C144.8,258.8 147.7,260.7 151.7,262.5 C155.7,264.3 163.2,265.6 165.5,266.2" fill="none" stroke="#111" stroke-width="1.15" stroke-linejoin="round" stroke-linecap="round"/>
<path d="M116,218.5 C116.5,216.5 117.5,215.6 119,215.6 C121,215.6 123.5,216.5 125.5,219 C126.8,221 126.5,224 125,225.8 C123.5,227.3 121.5,227 119.5,225.5 C117.5,223.5 116,221 116,218.5 Z" fill="#fff" stroke="#111" stroke-width="1.15" stroke-linejoin="round" stroke-linecap="round"/>
<path d="M125.7,215.7 C130,219 133.5,221.5 135.2,223.9 C137,227 138,229.5 139.6,231.4 C141.5,234 143,235.8 145.3,236.5 L152.8,237.7" fill="none" stroke="#111" stroke-width="1.15" stroke-linejoin="round" stroke-linecap="round"/>
<path d="M135.5,223.6 L144,220.1 L154.1,227 L153.6,231.2 L148.5,235.8" fill="none" stroke="#111" stroke-width="1.15" stroke-linejoin="round" stroke-linecap="round"/>
<path d="M140.6,224.6 L144.8,222.6 L147.2,224.2 M141.3,229.8 C144.5,228 148,228.3 150.4,231.2 M145.8,226.3 L153.6,227.6" fill="none" stroke="#111" stroke-width="1.15" stroke-linejoin="round" stroke-linecap="round"/>
<g transform="translate(584.3,843.5)"><path d="M134,162.4 L57.4,162.4 Q55.2,162.4 55.2,164.6 L55.2,213.4 Q55.2,215.6 57.4,215.6 L134,215.6" fill="#fff" stroke="#1a1a1a" stroke-width="0.9"/>
<rect x="67.3" y="162.4" width="66.08" height="7.900000000000006" fill="#fff" stroke="#1a1a1a" stroke-width="0.9"/>
<path d="M76.74,162.4 L76.74,170.3 M86.18,162.4 L86.18,170.3 M95.62,162.4 L95.62,170.3 M105.06,162.4 L105.06,170.3 M114.50,162.4 L114.50,170.3 M123.94,162.4 L123.94,170.3 " fill="none" stroke="#1a1a1a" stroke-width="0.8"/>
<circle cx="72.02" cy="166.35" r="2.6" fill="none" stroke="#1a1a1a" stroke-width="0.9"/>
<path d="M70.42,167.95 L73.62,164.75" fill="none" stroke="#1a1a1a" stroke-width="0.8"/>
<circle cx="81.46" cy="166.35" r="2.6" fill="none" stroke="#1a1a1a" stroke-width="0.9"/>
<path d="M79.86,167.95 L83.06,164.75" fill="none" stroke="#1a1a1a" stroke-width="0.8"/>
<circle cx="90.90" cy="166.35" r="2.6" fill="none" stroke="#1a1a1a" stroke-width="0.9"/>
<path d="M89.30,167.95 L92.50,164.75" fill="none" stroke="#1a1a1a" stroke-width="0.8"/>
<circle cx="100.34" cy="166.35" r="2.6" fill="none" stroke="#1a1a1a" stroke-width="0.9"/>
<path d="M98.74,167.95 L101.94,164.75" fill="none" stroke="#1a1a1a" stroke-width="0.8"/>
<circle cx="109.78" cy="166.35" r="2.6" fill="none" stroke="#1a1a1a" stroke-width="0.9"/>
<path d="M108.18,167.95 L111.38,164.75" fill="none" stroke="#1a1a1a" stroke-width="0.8"/>
<circle cx="119.22" cy="166.35" r="2.6" fill="none" stroke="#1a1a1a" stroke-width="0.9"/>
<path d="M117.62,167.95 L120.82,164.75" fill="none" stroke="#1a1a1a" stroke-width="0.8"/>
<circle cx="128.66" cy="166.35" r="2.6" fill="none" stroke="#1a1a1a" stroke-width="0.9"/>
<path d="M127.06,167.95 L130.26,164.75" fill="none" stroke="#1a1a1a" stroke-width="0.8"/>
<rect x="67.3" y="207.7" width="66.08" height="7.900000000000006" fill="#fff" stroke="#1a1a1a" stroke-width="0.9"/>
<path d="M76.74,207.7 L76.74,215.6 M86.18,207.7 L86.18,215.6 M95.62,207.7 L95.62,215.6 M105.06,207.7 L105.06,215.6 M114.50,207.7 L114.50,215.6 M123.94,207.7 L123.94,215.6 " fill="none" stroke="#1a1a1a" stroke-width="0.8"/>
<circle cx="72.02" cy="211.65" r="2.6" fill="none" stroke="#1a1a1a" stroke-width="0.9"/>
<path d="M70.42,213.25 L73.62,210.05" fill="none" stroke="#1a1a1a" stroke-width="0.8"/>
<circle cx="81.46" cy="211.65" r="2.6" fill="none" stroke="#1a1a1a" stroke-width="0.9"/>
<path d="M79.86,213.25 L83.06,210.05" fill="none" stroke="#1a1a1a" stroke-width="0.8"/>
<circle cx="90.90" cy="211.65" r="2.6" fill="none" stroke="#1a1a1a" stroke-width="0.9"/>
<path d="M89.30,213.25 L92.50,210.05" fill="none" stroke="#1a1a1a" stroke-width="0.8"/>
<circle cx="100.34" cy="211.65" r="2.6" fill="none" stroke="#1a1a1a" stroke-width="0.9"/>
<path d="M98.74,213.25 L101.94,210.05" fill="none" stroke="#1a1a1a" stroke-width="0.8"/>
<circle cx="109.78" cy="211.65" r="2.6" fill="none" stroke="#1a1a1a" stroke-width="0.9"/>
<path d="M108.18,213.25 L111.38,210.05" fill="none" stroke="#1a1a1a" stroke-width="0.8"/>
<circle cx="119.22" cy="211.65" r="2.6" fill="none" stroke="#1a1a1a" stroke-width="0.9"/>
<path d="M117.62,213.25 L120.82,210.05" fill="none" stroke="#1a1a1a" stroke-width="0.8"/>
<circle cx="128.66" cy="211.65" r="2.6" fill="none" stroke="#1a1a1a" stroke-width="0.9"/>
<path d="M127.06,213.25 L130.26,210.05" fill="none" stroke="#1a1a1a" stroke-width="0.8"/>
<path d="M67.30,170.3 C67.80,172.5 70.50,174 70.50,176.3 M70.50,202.4 C70.50,204.5 67.80,205.5 67.30,207.7 M76.74,170.3 C77.24,172.5 79.94,174 79.94,176.3 M79.94,202.4 C79.94,204.5 77.24,205.5 76.74,207.7 M86.18,170.3 C86.68,172.5 89.38,174 89.38,176.3 M89.38,202.4 C89.38,204.5 86.68,205.5 86.18,207.7 M95.62,170.3 C96.12,172.5 98.82,174 98.82,176.3 M98.82,202.4 C98.82,204.5 96.12,205.5 95.62,207.7 M105.06,170.3 C105.56,172.5 108.26,174 108.26,176.3 M108.26,202.4 C108.26,204.5 105.56,205.5 105.06,207.7 M114.50,170.3 C115.00,172.5 117.70,174 117.70,176.3 M117.70,202.4 C117.70,204.5 115.00,205.5 114.50,207.7 M123.94,170.3 C124.44,172.5 127.14,174 127.14,176.3 M127.14,202.4 C127.14,204.5 124.44,205.5 123.94,207.7 M133.38,170.3 C133.88,172.5 136.58,174 136.58,176.3 M136.58,202.4 C136.58,204.5 133.88,205.5 133.38,207.7 " fill="none" stroke="#1a1a1a" stroke-width="0.8"/>
<path d="M70.5,176.3 L137.08,176.3 M70.5,176.3 L70.5,181 M70.5,195.8 L136.58,195.8 L136.58,202.4 L70.5,202.4 Z" fill="none" stroke="#1a1a1a" stroke-width="0.8"/>
<path d="M79.94,195.8 L79.94,202.4 M89.38,195.8 L89.38,202.4 M98.82,195.8 L98.82,202.4 M108.26,195.8 L108.26,202.4 M117.70,195.8 L117.70,202.4 M127.14,195.8 L127.14,202.4 " fill="none" stroke="#555" stroke-width="0.7"/>
<path d="M75.30,178 L78.90,178 L79.84,179.2 L79.74,194.8 L70.90,194.8 L71.40,192.5 L71.40,184.2 L71.90,182.8 Z" fill="#111"/>
<path d="M71.70,184 C74.90,186 74.90,191 71.70,193.2 C73.10,190.5 73.10,186.5 71.70,184 Z" fill="#fff" stroke="#fff" stroke-width="0.8"/>
<path d="M72.70,185.5 C73.70,187.5 73.70,190 72.70,191.8" fill="none" stroke="#666" stroke-width="0.5"/>
<path d="M84.74,178 L88.34,178 L89.28,179.2 L89.18,194.8 L80.34,194.8 L80.84,192.5 L80.84,184.2 L81.34,182.8 Z" fill="#111"/>
<path d="M81.14,184 C84.34,186 84.34,191 81.14,193.2 C82.54,190.5 82.54,186.5 81.14,184 Z" fill="#fff" stroke="#fff" stroke-width="0.8"/>
<path d="M82.14,185.5 C83.14,187.5 83.14,190 82.14,191.8" fill="none" stroke="#666" stroke-width="0.5"/>
<path d="M94.18,178 L97.78,178 L98.72,179.2 L98.62,194.8 L89.78,194.8 L90.28,192.5 L90.28,184.2 L90.78,182.8 Z" fill="#111"/>
<path d="M90.58,184 C93.78,186 93.78,191 90.58,193.2 C91.98,190.5 91.98,186.5 90.58,184 Z" fill="#fff" stroke="#fff" stroke-width="0.8"/>
<path d="M91.58,185.5 C92.58,187.5 92.58,190 91.58,191.8" fill="none" stroke="#666" stroke-width="0.5"/>
<path d="M103.62,178 L107.22,178 L108.16,179.2 L108.06,194.8 L99.22,194.8 L99.72,192.5 L99.72,184.2 L100.22,182.8 Z" fill="#111"/>
<path d="M100.02,184 C103.22,186 103.22,191 100.02,193.2 C101.42,190.5 101.42,186.5 100.02,184 Z" fill="#fff" stroke="#fff" stroke-width="0.8"/>
<path d="M101.02,185.5 C102.02,187.5 102.02,190 101.02,191.8" fill="none" stroke="#666" stroke-width="0.5"/>
<path d="M113.06,178 L116.66,178 L117.60,179.2 L117.50,194.8 L108.66,194.8 L109.16,192.5 L109.16,184.2 L109.66,182.8 Z" fill="#111"/>
<path d="M109.46,184 C112.66,186 112.66,191 109.46,193.2 C110.86,190.5 110.86,186.5 109.46,184 Z" fill="#fff" stroke="#fff" stroke-width="0.8"/>
<path d="M110.46,185.5 C111.46,187.5 111.46,190 110.46,191.8" fill="none" stroke="#666" stroke-width="0.5"/>
<path d="M122.50,178 L126.10,178 L127.04,179.2 L126.94,194.8 L118.10,194.8 L118.60,192.5 L118.60,184.2 L119.10,182.8 Z" fill="#111"/>
<path d="M118.90,184 C122.10,186 122.10,191 118.90,193.2 C120.30,190.5 120.30,186.5 118.90,184 Z" fill="#fff" stroke="#fff" stroke-width="0.8"/>
<path d="M119.90,185.5 C120.90,187.5 120.90,190 119.90,191.8" fill="none" stroke="#666" stroke-width="0.5"/>
<path d="M131.94,178 L135.54,178 L136.48,179.2 L136.38,194.8 L127.54,194.8 L128.04,192.5 L128.04,184.2 L128.54,182.8 Z" fill="#111"/>
<path d="M128.34,184 C131.54,186 131.54,191 128.34,193.2 C129.74,190.5 129.74,186.5 128.34,184 Z" fill="#fff" stroke="#fff" stroke-width="0.8"/>
<path d="M129.34,185.5 C130.34,187.5 130.34,190 129.34,191.8" fill="none" stroke="#666" stroke-width="0.5"/></g>
<g transform="translate(584.3,835.7)"><polygon points="105.1,190.7 107,190.7 112.6,195.1 126.5,198.9 139.1,202.6 151.7,208.3 160.5,210.2 166.8,208.3 175,222 184.4,237.3 165.5,266.2 151.7,262.5 141.6,255.5 132.8,242.9 124,232.9 117,224 115.8,216.5 117.5,215.4 120.5,215.5 123.5,216.8 126.5,219.5 130,221 134,222.8 142.9,220.9 132.8,216.5 120.2,208.9 108.9,201.4 103.8,197 103.8,192.6" fill="#fff" stroke="none"/>
<path d="M105.1,190.7 C105.4,190.7 105.8,190.0 107.0,190.7 C108.2,191.4 109.3,193.7 112.6,195.1 C115.8,196.5 122.1,197.7 126.5,198.9 C130.9,200.2 134.9,201.0 139.1,202.6 C143.3,204.2 148.1,207.0 151.7,208.3 C155.3,209.6 158.0,210.2 160.5,210.2 C163.0,210.2 165.8,208.6 166.8,208.3" fill="none" stroke="#111" stroke-width="1.15" stroke-linejoin="round" stroke-linecap="round"/>
<path d="M166.8,208.3 C172,217 178,227 184.4,237.3" fill="none" stroke="#111" stroke-width="1.15" stroke-linejoin="round" stroke-linecap="round"/>
<path d="M151.7,208.8 C152.8,209.2 155.9,210.6 158.0,211.5 C160.1,212.4 162.1,213.3 164.0,214.5 C165.9,215.7 168.4,217.8 169.3,218.4" fill="none" stroke="#111" stroke-width="1.15" stroke-linejoin="round" stroke-linecap="round"/>
<path d="M105.1,190.7 C104.9,191.0 104.0,191.5 103.8,192.6 C103.6,193.7 102.9,195.5 103.8,197.0 C104.7,198.5 106.2,199.4 108.9,201.4 C111.6,203.4 116.2,206.4 120.2,208.9 C124.2,211.4 129.0,214.5 132.8,216.5 C136.6,218.5 141.2,220.2 142.9,220.9" fill="none" stroke="#111" stroke-width="1.15" stroke-linejoin="round" stroke-linecap="round"/>
<path d="M115.8,216.5 C116.0,217.8 115.6,221.3 117.0,224.0 C118.4,226.7 121.4,229.8 124.0,232.9 C126.6,236.1 129.9,239.1 132.8,242.9 C135.7,246.7 138.4,252.2 141.6,255.5 C144.8,258.8 147.7,260.7 151.7,262.5 C155.7,264.3 163.2,265.6 165.5,266.2" fill="none" stroke="#111" stroke-width="1.15" stroke-linejoin="round" stroke-linecap="round"/>
<path d="M116,218.5 C116.5,216.5 117.5,215.6 119,215.6 C121,215.6 123.5,216.5 125.5,219 C126.8,221 126.5,224 125,225.8 C123.5,227.3 121.5,227 119.5,225.5 C117.5,223.5 116,221 116,218.5 Z" fill="#fff" stroke="#111" stroke-width="1.15" stroke-linejoin="round" stroke-linecap="round"/>
<path d="M125.7,215.7 C130,219 133.5,221.5 135.2,223.9 C137,227 138,229.5 139.6,231.4 C141.5,234 143,235.8 145.3,236.5 L152.8,237.7" fill="none" stroke="#111" stroke-width="1.15" stroke-linejoin="round" stroke-linecap="round"/>
<path d="M135.5,223.6 L144,220.1 L154.1,227 L153.6,231.2 L148.5,235.8" fill="none" stroke="#111" stroke-width="1.15" stroke-linejoin="round" stroke-linecap="round"/>
<path d="M140.6,224.6 L144.8,222.6 L147.2,224.2 M141.3,229.8 C144.5,228 148,228.3 150.4,231.2 M145.8,226.3 L153.6,227.6" fill="none" stroke="#111" stroke-width="1.15" stroke-linejoin="round" stroke-linecap="round"/></g>
<path d="M30.1,173.5 L57.4,173.5 L57.4,203.4 L30.1,203.4" fill="#fff" stroke="#1a1a1a" stroke-width="1"/>
<text x="41.6" y="196.9" font-size="24.5" text-anchor="middle" fill="#111">1</text>
<path d="M617.6,1018.9 L645.5,1018.9 L645.5,1048.7 L617.6,1048.7" fill="#fff" stroke="#1a1a1a" stroke-width="1"/>
<text x="630" y="1041.8" font-size="23.5" text-anchor="middle" fill="#111">8</text>
<text x="50.4" y="253.7" font-size="24.5" fill="#111" textLength="48.5" lengthAdjust="spacingAndGlyphs">off /</text>
<text x="50.8" y="284.8" font-size="24" fill="#111" textLength="68.6" lengthAdjust="spacingAndGlyphs">Выкл.</text>
<text x="675.3" y="964" font-size="24.5" fill="#111" textLength="46.4" lengthAdjust="spacingAndGlyphs">on /</text>
<text x="675.5" y="994.7" font-size="24" fill="#111" textLength="50.3" lengthAdjust="spacingAndGlyphs">Вкл.</text>
<path d="M146.7,175.3 C150.5,179 152.6,183 152.3,187 C152.1,189.5 151.2,191.5 149.8,193.6" fill="none" stroke="#111" stroke-width="1.3"/>
<path d="M146.1,198.5 L147.1,191.9 L152.4,195.7 Z" fill="#111"/>
<path d="M735.6,1038.2 C738,1035 739.8,1031 740.4,1027 C740.8,1024.5 740.3,1022.5 739.4,1020.8" fill="none" stroke="#111" stroke-width="1.3"/>
<path d="M734.6,1015.4 L735.8,1022 L741.1,1017.6 Z" fill="#111"/>
<circle cx="481.5" cy="473.7" r="14.6" fill="#fff" stroke="#111" stroke-width="1.35"/><text x="481.5" y="482.3" font-size="24" text-anchor="middle" fill="#111">3</text>
<circle cx="573.7" cy="486.6" r="14.6" fill="#fff" stroke="#111" stroke-width="1.35"/><text x="573.7" y="495.20000000000005" font-size="24" text-anchor="middle" fill="#111">2</text>
<circle cx="246.3" cy="472.3" r="14.6" fill="#fff" stroke="#111" stroke-width="1.35"/><text x="246.3" y="480.90000000000003" font-size="24" text-anchor="middle" fill="#111">5</text>
<circle cx="467.5" cy="589.3" r="14.6" fill="#fff" stroke="#111" stroke-width="1.35"/><text x="467.5" y="597.9" font-size="24" text-anchor="middle" fill="#111">4</text>
<circle cx="100.9" cy="843.1" r="14.6" fill="#fff" stroke="#111" stroke-width="1.35"/><text x="100.9" y="851.7" font-size="24" text-anchor="middle" fill="#111">6</text>
<circle cx="80.2" cy="940.6" r="14.6" fill="#fff" stroke="#111" stroke-width="1.35"/><text x="80.2" y="949.2" font-size="24" text-anchor="middle" fill="#111">7</text>
<path d="M466.3,445.7 L489.8,445.7 L489.8,442.45 L498.8,448.2 L489.8,453.95 L489.8,450.7 L466.3,450.7 Z" fill="#1a1a1a"/>
<path d="M560.3,456.2 L584,456.2 L584,452.95 L593,458.7 L584,464.45 L584,461.2 L560.3,461.2 Z" fill="#1a1a1a"/>
<path d="M227.1,496.5 L254.60000000000002,496.5 L254.60000000000002,493.25 L263.6,499 L254.60000000000002,504.75 L254.60000000000002,501.5 L227.1,501.5 Z" fill="#1a1a1a"/>
<path d="M129.8,860.5 L129.8,837.5 L126.4,837.5 L132.3,828.1 L138.20000000000002,837.5 L134.8,837.5 L134.8,860.5 Z" fill="#1a1a1a"/>
<path d="M108.80000000000001,957.8 L108.80000000000001,935.3 L105.45,935.3 L111.4,925.4 L117.35000000000001,935.3 L114.0,935.3 L114.0,957.8 Z" fill="#1a1a1a"/><!-- HEADER -->
<g id="header">
<rect x="13.2" y="10.9" width="767.25" height="131.3" fill="#231f20" stroke="#000" stroke-width="1.45"/>
<!-- lion logo -->
<g id="lion" fill="#fff">
<rect x="40" y="76.4" width="112" height="2.7"/>
<polygon points="52.4,46.4 54.5,44.1 58.1,40.5 61.1,39 65.1,38.8 69.2,41.6 73.2,44.3 77.2,46.8 79.7,48.7 82.5,49.4 86,49.2 95,49.2 104,50 110,51.8 114,54.5 116.5,58 118.5,63 119.8,69 119.3,73.5 118.8,76.4 115.5,76.4 115.8,73 114.5,68 112,65 110,63.8 108.5,66 106.8,70 103.5,73.5 101,75.5 101.5,76.4 97.5,76.4 98,74.5 101.5,70.5 103,66 102.4,63.2 98.4,62.1 90,63.5 83.2,66.1 79.2,69.1 76,72.5 73.5,76.4 70,76.4 71,74 74,70 71.5,70.5 68,73.5 65.5,76.4 61.5,76.4 63,74 66.5,69.5 67.1,67.1 63,61 58.5,55 55.5,52 56.5,50.8 54.5,50.5 53,49 52.2,47.8"/>
<polygon points="71,34 72,31 75.5,28.8 80,28 88,27.8 98,27.8 108,27.5 116,26.5 121,25.5 124.8,25.3 124,29 121,34 116,39 110,42.5 103,45 96,46 92,47 88,48.8 85,49.4 83.2,48.2 82.8,46.6 81.8,45.3 78.2,43.2 74.2,40.5 71.3,37.6"/>
<path d="M114,54.5 C118,58 121,62 125,66 C129,70 135,71.5 139.5,70 C143.5,68.5 146,65 147,61" fill="none" stroke="#fff" stroke-width="2.1" stroke-linecap="round"/>
</g>
<g class="serif" fill="#fff" stroke="#231f20" stroke-width="0.5" font-size="45.5">
<text class="serif" x="41.4" y="116" textLength="30.4" lengthAdjust="spacingAndGlyphs">A</text>
<text class="serif" x="72.4" y="116" textLength="28.3" lengthAdjust="spacingAndGlyphs">R</text>
<text class="serif" x="101.6" y="116" textLength="26.6" lengthAdjust="spacingAndGlyphs">T</text>
<text class="serif" x="128.1" y="116" textLength="25.3" lengthAdjust="spacingAndGlyphs">E</text>
</g>
<g class="serif" fill="#fff" font-size="11">
<text class="serif" x="42" y="132.6">L</text>
<text class="serif" x="73.2" y="132.6">A</text>
<text class="serif" x="107.6" y="132.6">M</text>
<text class="serif" x="144.6" y="132.6">P</text>
</g>
<text x="175.2" y="45.3" fill="#fff" font-size="19.5" font-weight="bold" textLength="246" lengthAdjust="spacingAndGlyphs">ASSEMBLY INSTRUCTION</text>
<text x="175.2" y="70.5" fill="#fff" font-size="19.5" font-weight="bold" textLength="139.6" lengthAdjust="spacingAndGlyphs">ИНСТРУКЦИЯ</text>
<text x="174.6" y="103.3" fill="#fff" font-size="20" textLength="174.6" lengthAdjust="spacingAndGlyphs">Collection/Серия:</text>
<text x="174.8" y="132" fill="#fff" font-size="20" textLength="71.6" lengthAdjust="spacingAndGlyphs">BRONN</text>
<text x="571.8" y="103.6" fill="#fff" font-size="20" textLength="184.2" lengthAdjust="spacingAndGlyphs">ITEM Nr./Артикул:</text>
<text x="624.6" y="132.7" fill="#fff" font-size="20" textLength="131.2" lengthAdjust="spacingAndGlyphs">A2367AL-1BK</text>
<g id="book" fill="none" stroke="#fff" stroke-width="1.1" stroke-linejoin="round">
<path d="M720.4,33.2 L721,69.8 L747.4,72 L748.8,34.4 Z" fill="#0e0e0e"/>
<path d="M720.4,33.2 L744.5,22 L748.5,35"/>
<path d="M722,33 L746.5,25.5 L750.5,36.5 L750,70 L747.4,72"/>
<path d="M723.5,33.5 L748,29 L752,38 L751.5,71.5 L747.4,72"/>
<circle cx="737.6" cy="42.3" r="2.6" fill="#fff" stroke="none"/>
<path d="M733.2,47.6 L739.6,47.6 L739.6,65 L742.8,65.3 L742.8,68.4 L732.8,68 L732.8,65 L735.2,65 L735.2,50.3 L733.2,50.3 Z" fill="#fff" stroke="none"/>
<path d="M726.6,37.5 L726.6,55" stroke-width="1.4" stroke="#bbb"/>
<path d="M726.6,54 C724.6,56.5 724.6,63 726.6,66.8 C728.6,63 728.6,56.5 726.6,54 Z" fill="#333" stroke="#ddd" stroke-width="0.8"/>
</g>
<text x="672" y="69.7" fill="#fff" stroke="#231f20" stroke-width="1.1" font-size="52.5" textLength="34.4" lengthAdjust="spacingAndGlyphs">A</text>
</g>

</svg>
</body></html>
